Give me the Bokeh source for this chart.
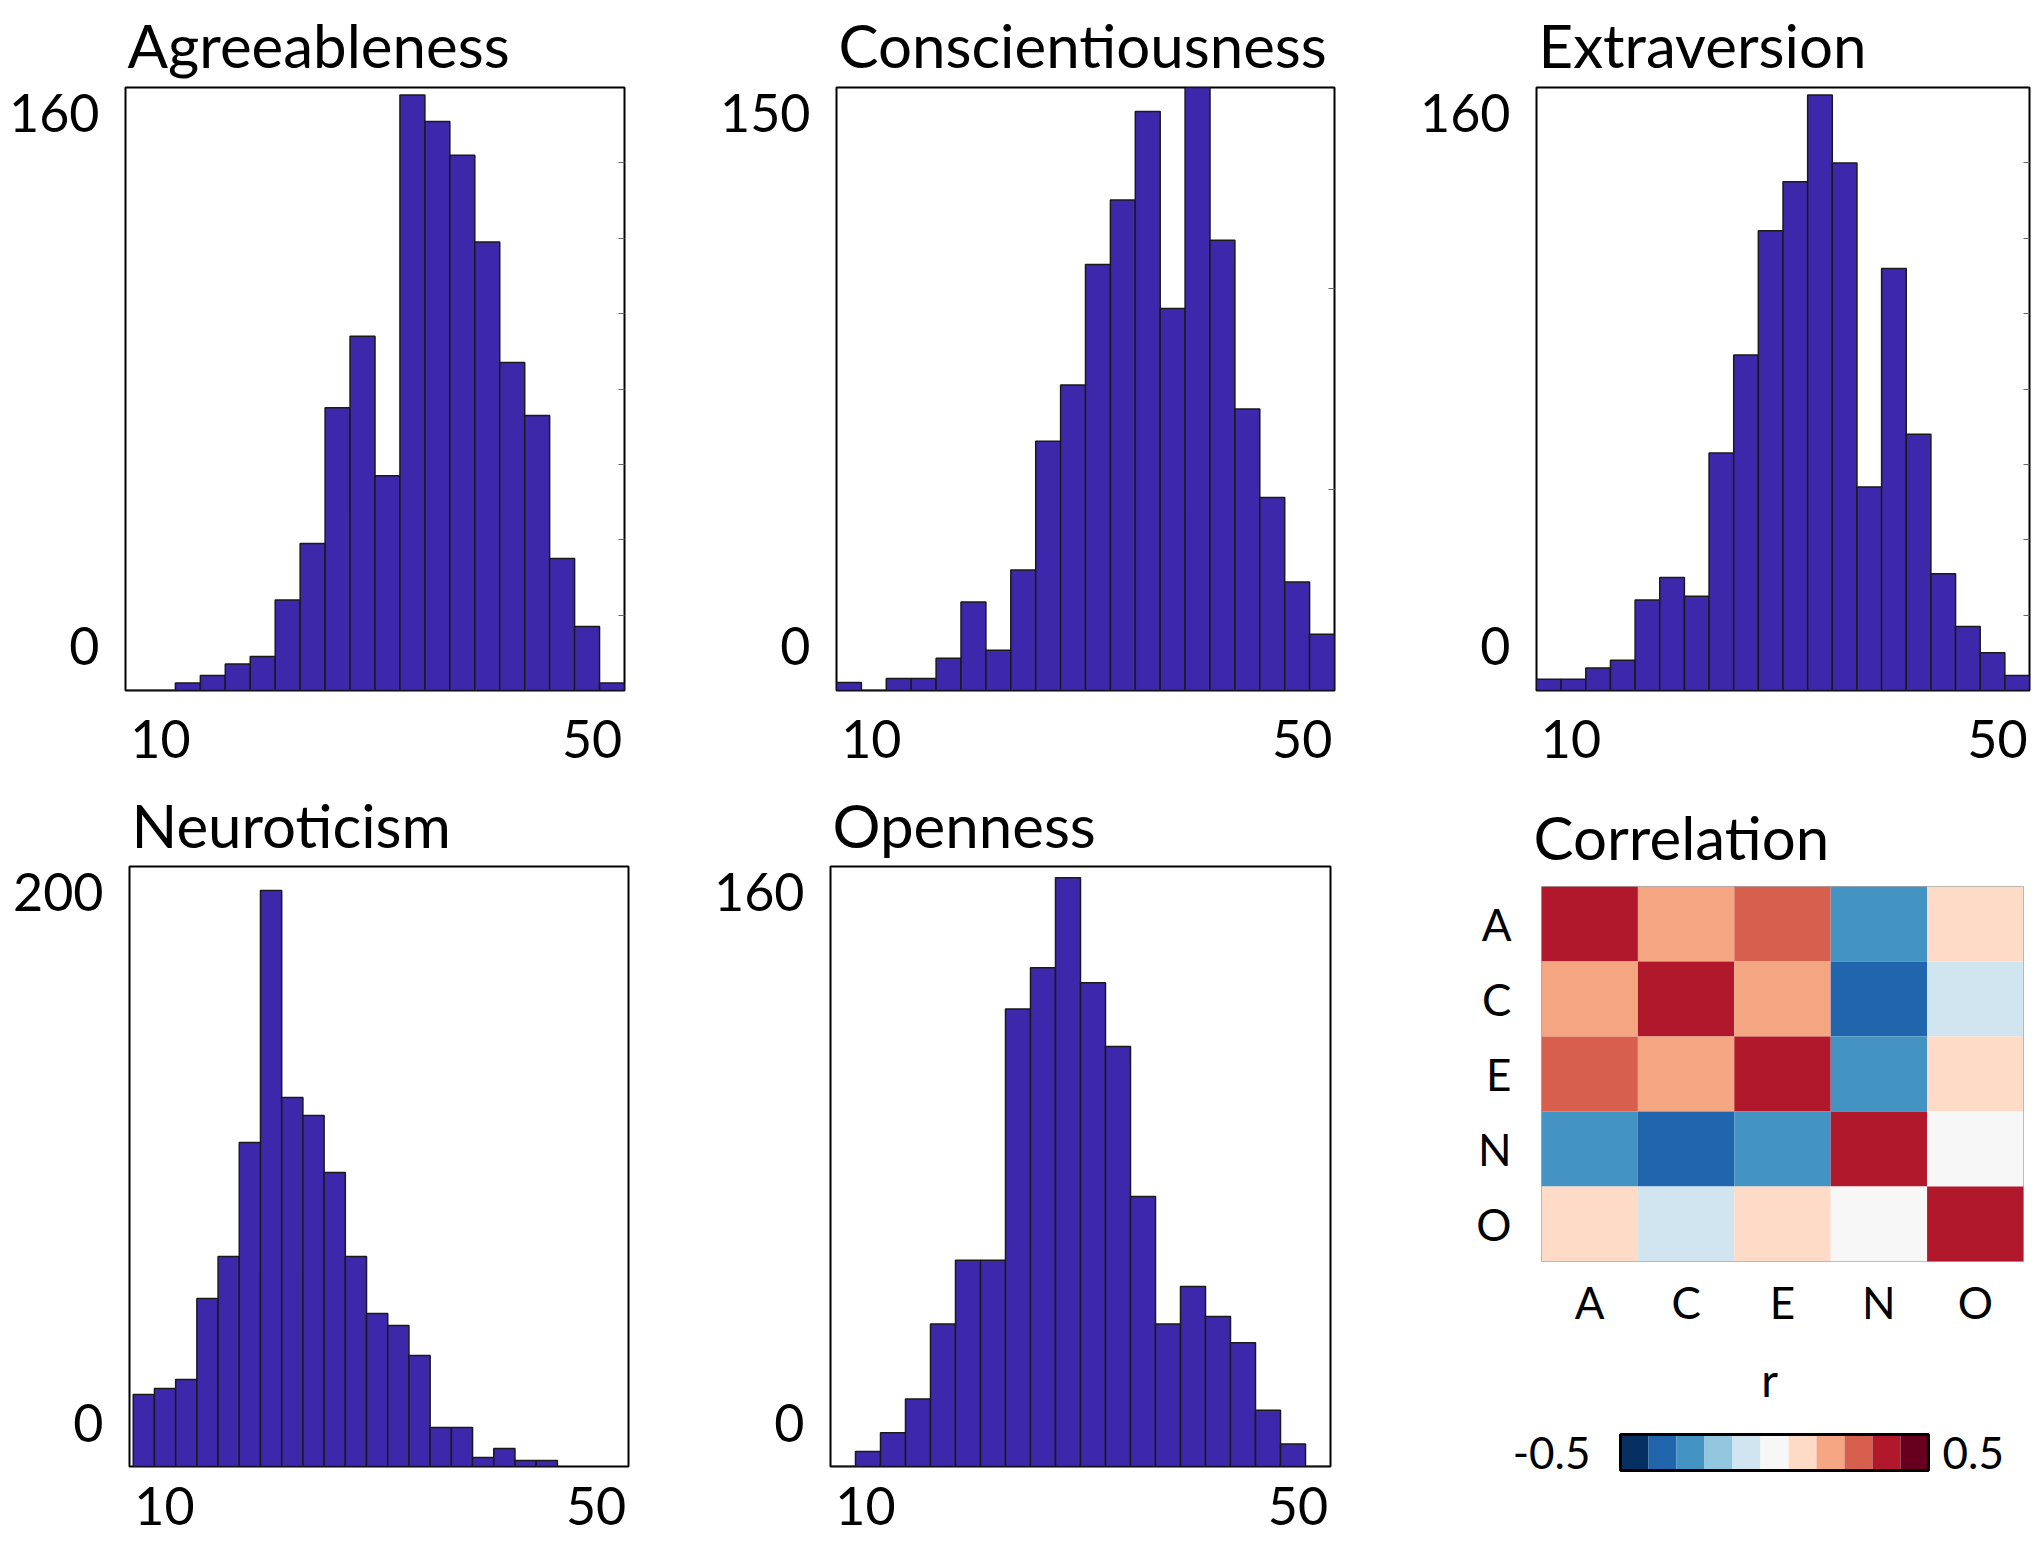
from bokeh.plotting import figure
from bokeh.layouts import row, column
from bokeh.models import (Range1d, FixedTicker, FactorRange, LinearColorMapper,
                          ColumnDataSource, Label, LinearAxis)
from bokeh.transform import transform
from bokeh.embed import file_html
from bokeh.resources import INLINE
import numpy as np

# ---------------- data ----------------
TRAITS = ["A", "C", "E", "N", "O"]

AGREE_COUNTS = [0, 0, 2, 4, 7, 9, 24, 39, 75, 94, 57, 158, 151, 142, 119, 87, 73, 35, 17, 2]
CONSC_COUNTS = [2, 0, 3, 3, 8, 22, 10, 30, 62, 76, 106, 122, 144, 95, 150, 112, 70, 48, 27, 14]
EXTRA_COUNTS = [3, 3, 6, 8, 24, 30, 25, 63, 89, 122, 135, 158, 140, 54, 112, 68, 31, 17, 10, 4]
NEURO_COUNTS = [24, 26, 29, 56, 70, 108, 192, 123, 117, 98, 70, 51, 47, 37, 13, 13, 3, 6, 2, 2]
OPEN_COUNTS = [0, 4, 9, 18, 38, 55, 55, 122, 133, 157, 129, 112, 72, 38, 48, 40, 33, 15, 6, 0]

# histogram bins: first edge and bin width per trait
AGREE_BINS = (10.0, 2.0)
CONSC_BINS = (10.0, 2.0)
EXTRA_BINS = (10.0, 2.0)
NEURO_BINS = (10.3, 1.7)
OPEN_BINS = (10.0, 2.0)

TITLES = ["Agreeableness", "Conscientiousness", "Extraversion", "Neuroticism", "Openness"]
Y_MAX = [160, 150, 160, 200, 160]
Y_TICK_LABELS = [["0", "160"], ["0", "150"], ["0", "160"], ["0", "200"], ["0", "160"]]
RIGHT_TICK_STEP = [20, 50, 20, None, None]
X_TICK_LABELS = ["10", "50"]

CORR = [
    [1.00, 0.18, 0.27, -0.27, 0.09],
    [0.18, 1.00, 0.18, -0.36, -0.09],
    [0.27, 0.18, 1.00, -0.27, 0.09],
    [-0.27, -0.36, -0.27, 1.00, 0.00],
    [0.09, -0.09, 0.09, 0.00, 1.00],
]
R_LOW, R_HIGH = -0.5, 0.5
R_LABELS = ["-0.5", "0.5"]
R_TITLE = "r"
PALETTE = ["#053061", "#2166ac", "#4393c3", "#92c5de", "#d1e5f0", "#f7f7f7",
           "#fddbc7", "#f4a582", "#d6604d", "#b2182b", "#67001f"]

# ---------------- style ----------------
FONT = "Lato"
BAR_COLOR = "#3d28ab"
TITLE_SIZE = "60px"
TICK_SIZE = "52px"


def hist_fig(title, counts, bins, ymax, ylabels, rstep, w, h, bl, br, bt, bb, xstand, tstand,
             ytick_frac=(0.073, 0.957), xtick_pos=(12.8, 47.4)):
    p = figure(width=w, height=h, output_backend="svg", toolbar_location=None,
               x_range=Range1d(10, 50), y_range=Range1d(0, ymax))
    p.min_border_left = bl
    p.min_border_right = br
    p.min_border_top = bt
    p.min_border_bottom = bb
    lo, bw = bins
    n = len(counts)
    edges = lo + bw * np.arange(n + 1)
    src = ColumnDataSource(dict(left=edges[:-1], right=edges[1:], top=counts, bottom=[0] * n))
    p.quad(left="left", right="right", top="top", bottom="bottom", source=src,
           fill_color=BAR_COLOR, line_color="#1a1a1a", line_width=1.5)
    p.grid.visible = False
    p.outline_line_color = "black"
    p.outline_line_width = 2
    p.background_fill_color = "white"
    p.border_fill_color = "white"

    yt = [ytick_frac[0] * ymax, ytick_frac[1] * ymax]
    p.yaxis.ticker = FixedTicker(ticks=yt)
    p.yaxis.major_label_overrides = {yt[0]: ylabels[0], yt[1]: ylabels[1]}
    p.xaxis.ticker = FixedTicker(ticks=list(xtick_pos))
    p.xaxis.major_label_overrides = {xtick_pos[0]: X_TICK_LABELS[0], xtick_pos[1]: X_TICK_LABELS[1]}
    for ax in (p.xaxis, p.yaxis):
        ax.axis_line_color = None
        ax.major_tick_line_color = None
        ax.minor_tick_line_color = None
        ax.major_tick_out = 0
        ax.major_tick_in = 0
        ax.minor_tick_out = 0
        ax.minor_tick_in = 0
        ax.major_label_text_font = FONT
        ax.major_label_text_font_size = TICK_SIZE
        ax.major_label_text_color = "black"
    p.yaxis.major_label_standoff = 26
    p.xaxis.major_label_standoff = xstand

    if rstep:
        rax = LinearAxis(ticker=FixedTicker(ticks=list(np.arange(rstep, ymax, rstep))))
        rax.axis_line_color = None
        rax.major_tick_in = 6
        rax.major_tick_out = 0
        rax.minor_tick_in = 0
        rax.minor_tick_out = 0
        rax.minor_tick_line_color = None
        rax.major_tick_line_color = "#666666"
        rax.major_tick_line_width = 1
        rax.major_label_text_color = None
        rax.major_label_text_font_size = "1px"
        rax.major_label_standoff = 0
        p.add_layout(rax, "right")

    p.title.text = title
    p.title.text_font = FONT
    p.title.text_font_size = TITLE_SIZE
    p.title.text_font_style = "normal"
    p.title.text_color = "black"
    p.title.align = "left"
    p.title.offset = 2
    p.title.standoff = tstand
    return p


# row 1: height 780 ; row 2: height 767
p1 = hist_fig(TITLES[0], AGREE_COUNTS, AGREE_BINS, Y_MAX[0], Y_TICK_LABELS[0], RIGHT_TICK_STEP[0],
              710, 780, 125, 86, 87, 90, 29, 13)
p2 = hist_fig(TITLES[1], CONSC_COUNTS, CONSC_BINS, Y_MAX[1], Y_TICK_LABELS[1], RIGHT_TICK_STEP[1],
              690, 780, 126, 66, 87, 90, 29, 13)
p3 = hist_fig(TITLES[2], EXTRA_COUNTS, EXTRA_BINS, Y_MAX[2], Y_TICK_LABELS[2], RIGHT_TICK_STEP[2],
              640, 780, 136, 11, 87, 90, 29, 13)
p4 = hist_fig(TITLES[3], NEURO_COUNTS, NEURO_BINS, Y_MAX[3], Y_TICK_LABELS[3], RIGHT_TICK_STEP[3],
              710, 767, 129, 82, 86, 81, 20, 12)
p5 = hist_fig(TITLES[4], OPEN_COUNTS, OPEN_BINS, Y_MAX[4], Y_TICK_LABELS[4], RIGHT_TICK_STEP[4],
              690, 767, 120, 70, 86, 81, 20, 12)

# ---------------- correlation heatmap ----------------
mapper = LinearColorMapper(palette=PALETTE, low=R_LOW, high=R_HIGH, high_color="#b2182b")
xs, ys, rs = [], [], []
for i, rname in enumerate(TRAITS):
    for j, cname in enumerate(TRAITS):
        xs.append(cname)
        ys.append(rname)
        rs.append(CORR[i][j])
hsrc = ColumnDataSource(dict(x=xs, y=ys, r=rs))

p6 = figure(width=640, height=550, output_backend="svg", toolbar_location=None,
            x_range=FactorRange(*TRAITS), y_range=FactorRange(*reversed(TRAITS)))
p6.min_border_left = 141
p6.min_border_right = 17
p6.min_border_top = 106
p6.min_border_bottom = 65
p6.rect(x="x", y="y", width=1, height=1, source=hsrc,
        fill_color=transform("r", mapper), line_color=None)
p6.grid.visible = False
p6.outline_line_color = "#aaaaaa"
p6.outline_line_width = 1
for ax in (p6.xaxis, p6.yaxis):
    ax.axis_line_color = None
    ax.major_tick_line_color = None
    ax.minor_tick_line_color = None
    ax.major_tick_out = 0
    ax.major_label_text_font = FONT
    ax.major_label_text_font_size = "44px"
    ax.major_label_text_color = "black"
p6.yaxis.major_label_standoff = 30
p6.xaxis.major_label_standoff = 14
p6.yaxis.major_label_orientation = "horizontal"
p6.title.text = "Correlation"
p6.title.text_font = FONT
p6.title.text_font_size = TITLE_SIZE
p6.title.text_font_style = "normal"
p6.title.text_color = "black"
p6.title.align = "left"
p6.title.offset = -8
p6.title.standoff = 27

# ---------------- color bar (own figure, frame = whole figure) ----------------
CB_W, CB_H = 640, 217
BAR_X0, BAR_X1 = 220, 528      # bar pixel span inside the figure
BAR_Y0, BAR_Y1 = 104, 140      # bar pixel span from the figure top
ppx = (BAR_X1 - BAR_X0) / (R_HIGH - R_LOW)
ppy = (BAR_Y1 - BAR_Y0)
x_start = R_LOW - BAR_X0 / ppx
x_end = R_HIGH + (CB_W - BAR_X1) / ppx
y_end = 1 + BAR_Y0 / ppy
y_start = 0 - (CB_H - BAR_Y1) / ppy

n = len(PALETTE)
step = (R_HIGH - R_LOW) / n
centers = [R_LOW + step * (k + 0.5) for k in range(n)]
cbsrc = ColumnDataSource(dict(x=centers, v=centers))
pcb = figure(width=CB_W, height=CB_H, output_backend="svg", toolbar_location=None,
             x_range=Range1d(x_start, x_end), y_range=Range1d(y_start, y_end))
pcb.min_border = 0
pcb.min_border_left = 0
pcb.min_border_right = 0
pcb.min_border_top = 0
pcb.min_border_bottom = 0
pcb.rect(x="x", y=0.5, width=step, height=1, source=cbsrc,
         fill_color=transform("v", mapper), line_color=None)
pcb.rect(x=(R_LOW + R_HIGH) / 2, y=0.5, width=R_HIGH - R_LOW, height=1,
         fill_color=None, line_color="black", line_width=3)
pcb.grid.visible = False
pcb.xaxis.visible = False
pcb.yaxis.visible = False
pcb.outline_line_color = None
pcb.add_layout(Label(x=R_LOW, y=0.5, text=R_LABELS[0], x_offset=-30,
                     text_align="right", text_baseline="middle",
                     text_font=FONT, text_font_size="44px", text_color="black"))
pcb.add_layout(Label(x=R_HIGH, y=0.5, text=R_LABELS[1], x_offset=14,
                     text_align="left", text_baseline="middle",
                     text_font=FONT, text_font_size="44px", text_color="black"))
pcb.add_layout(Label(x=(R_LOW + R_HIGH) / 2, y=1, text=R_TITLE, x_offset=-5, y_offset=55,
                     text_align="center", text_baseline="alphabetic",
                     text_font=FONT, text_font_size="46px", text_color="black"))

layout = column(row(p1, p2, p3), row(p4, p5, column(p6, row(pcb))))

open("out.html", "w").write(file_html(layout, INLINE))
